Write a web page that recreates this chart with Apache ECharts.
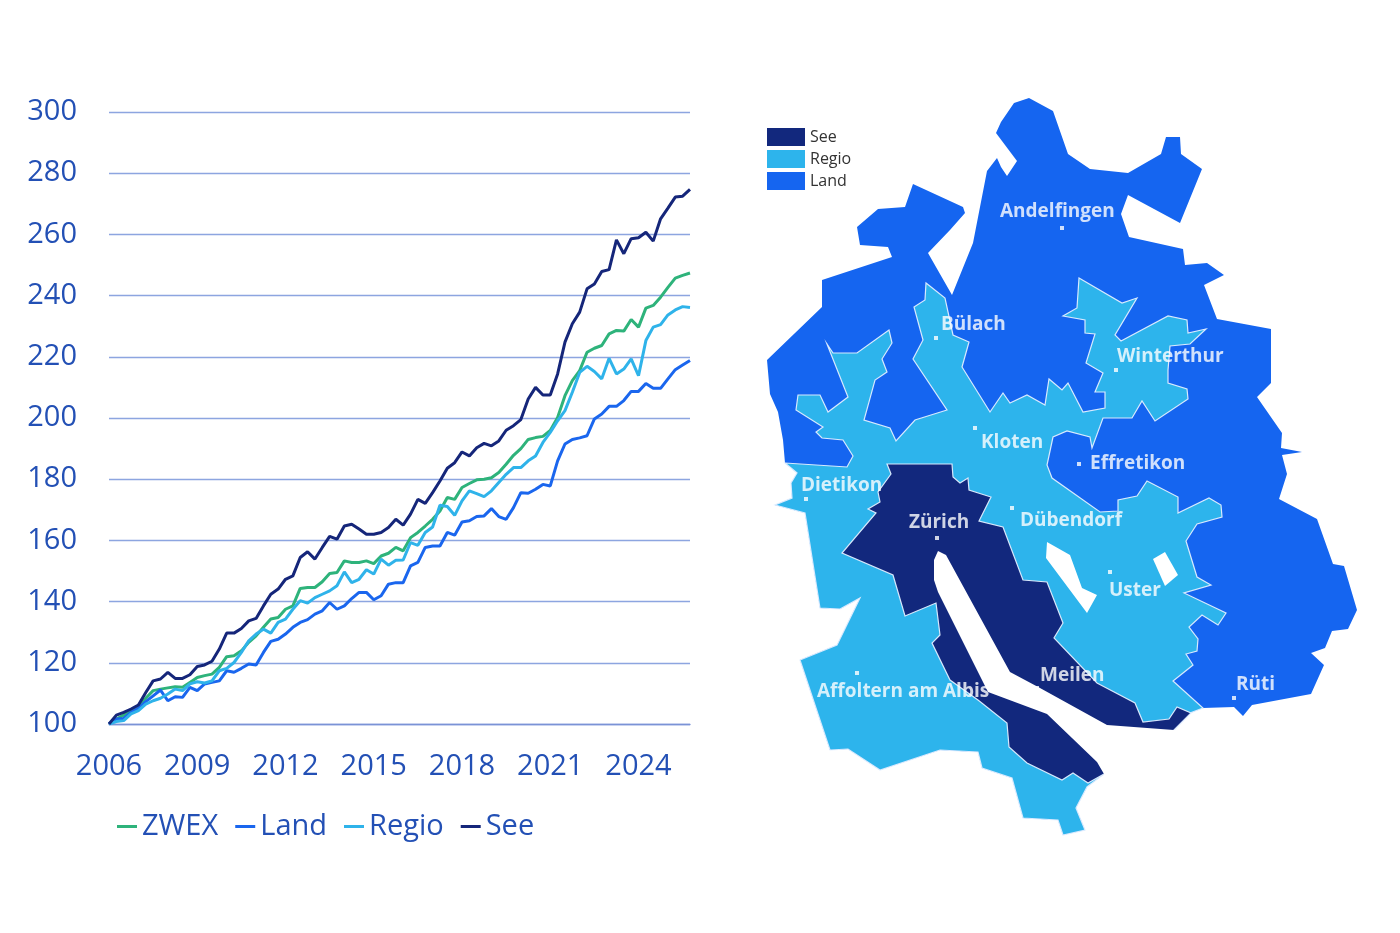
<!DOCTYPE html>
<html lang="de">
<head>
  <meta charset="UTF-8">
  <title>ZWEX</title>
  <script src="https://cdn.jsdelivr.net/npm/echarts@6/dist/echarts.min.js"></script>
  <style>
    body { margin: 0; background: #fff; }
    #chart { width: 1400px; height: 933px; }
  </style>
</head>
<body>
<div id="chart"></div>
<script>
  // Quartale 2006 Q1 bis 2025 Q4
  var quarters = [];
  for (var y = 2006; y <= 2025; y++) {
    for (var q = 1; q <= 4; q++) quarters.push(y + ' Q' + q);
  }

  var zwex = [100, 101.6, 102.9, 104.4, 106.0, 108.4, 110.9, 111.4, 111.8, 112.2, 112.0, 113.6,
    115.2, 115.8, 116.3, 118.5, 122.0, 122.3, 123.9, 126.7, 128.8, 131.6, 134.3, 134.8,
    137.5, 138.6, 144.3, 144.6, 144.6, 146.5, 149.2, 149.5, 153.3, 152.8, 152.8, 153.3,
    152.4, 154.9, 155.8, 157.7, 156.6, 160.9, 162.6, 164.7, 166.9, 169.6, 174.0, 173.4,
    177.3, 178.6, 179.8, 180.0, 180.5, 182.2, 184.9, 187.8, 190.0, 193.0, 193.6, 194.0,
    195.9, 200.2, 207.3, 212.2, 215.5, 221.5, 222.8, 223.7, 227.5, 228.6, 228.4, 232.2,
    229.7, 235.9, 236.8, 239.5, 242.7, 245.7, 246.6, 247.4];

  var land = [100, 101.6, 101.8, 103.8, 105.1, 107.3, 109.2, 111.1, 107.6, 108.9, 108.7, 112.0,
    110.9, 113.1, 113.6, 114.1, 117.4, 116.9, 118.2, 119.6, 119.3, 123.4, 127.0, 127.7,
    129.4, 131.6, 133.2, 134.1, 135.9, 137.0, 139.7, 137.5, 138.6, 141.0, 143.0, 143.0,
    140.6, 141.9, 145.7, 146.2, 146.2, 151.7, 152.8, 157.7, 158.2, 158.2, 162.6, 161.7,
    166.0, 166.4, 167.8, 168.0, 170.4, 167.8, 166.9, 170.7, 175.6, 175.4, 176.7, 178.3,
    177.8, 186.0, 191.5, 193.0, 193.5, 194.2, 199.7, 201.3, 203.8, 203.8, 205.7, 208.7,
    208.7, 211.3, 209.7, 209.7, 212.8, 215.8, 217.3, 218.8];

  var regio = [100, 100.8, 101.1, 103.3, 104.4, 106.5, 107.6, 108.4, 109.8, 111.4, 110.9, 113.1,
    113.8, 113.4, 114.1, 117.4, 118.2, 120.1, 123.4, 127.2, 129.4, 131.0, 129.7, 133.2,
    134.3, 137.5, 140.3, 139.5, 141.3, 142.4, 143.5, 145.2, 149.7, 146.2, 147.3, 150.4,
    149.0, 153.9, 151.9, 153.5, 153.6, 159.3, 158.4, 162.6, 164.4, 171.5, 171.1, 168.2,
    172.9, 176.2, 175.3, 174.3, 176.2, 178.9, 181.6, 183.8, 183.8, 186.0, 187.6, 192.0,
    195.3, 199.1, 202.4, 208.4, 214.9, 216.9, 215.2, 212.8, 219.5, 214.4, 216.0, 219.3,
    213.8, 225.3, 229.7, 230.5, 233.7, 235.3, 236.4, 236.1];

  var see = [100, 102.9, 103.8, 104.9, 106.2, 110.3, 114.1, 114.7, 116.9, 114.9, 114.9, 116.1,
    118.8, 119.3, 120.5, 124.5, 129.7, 129.7, 131.2, 133.7, 134.5, 138.6, 142.4, 144.1,
    147.3, 148.4, 154.4, 156.3, 153.9, 157.7, 161.3, 160.4, 164.7, 165.3, 163.7, 162.0,
    162.0, 162.6, 164.2, 166.9, 165.0, 168.6, 173.4, 172.1, 175.6, 179.4, 183.6, 185.4,
    188.9, 187.6, 190.3, 191.7, 190.9, 192.5, 196.0, 197.5, 199.5, 206.2, 210.0, 207.5,
    207.5, 214.4, 224.8, 230.8, 234.6, 242.2, 243.8, 247.9, 248.5, 258.2, 253.7, 258.6,
    258.9, 260.7, 257.8, 265.1, 268.6, 272.2, 272.5, 274.7];

  // Kartenumrisse (vereinfacht, x nach rechts, y nach unten)
  var cantonOutline = [[1014,103],[1029,98],[1053,111],[1068,154],[1090,169],[1128,173],[1161,154],[1166,137],
    [1180,137],[1181,154],[1202,169],[1180,223],[1128,195],[1121,214],[1129,237],[1183,249],[1185,265],
    [1207,263],[1224,275],[1204,285],[1217,319],[1271,329],[1271,383],[1257,397],[1282,433],[1281,448],
    [1302,452],[1282,455],[1287,474],[1279,499],[1317,519],[1333,564],[1344,566],[1357,610],[1348,629],
    [1332,631],[1325,648],[1311,653],[1324,665],[1311,694],[1252,705],[1243,716],[1234,707],[1203,708],
    [1190,713],[1174,730],[1104,774],[1087,787],[1076,808],[1085,830],[1063,835],[1058,820],[1023,818],
    [1012,778],[982,768],[978,752],[940,750],[880,770],[848,749],[830,750],[800,660],[837,645],[860,598],
    [840,609],[820,608],[805,513],[775,505],[792,498],[791,483],[797,473],[785,463],[783,440],[778,412],
    [770,394],[767,360],[822,307],[822,280],[892,257],[888,247],[860,245],[857,227],[878,209],[905,207],
    [913,184],[963,207],[965,213],[950,230],[928,253],[952,295],[973,243],[987,171],[997,158],[1001,167],
    [1007,176],[1017,161],[996,133],[1001,122],[1014,103]];

  var regioArea = [[785,463],[847,467],[853,456],[843,440],[822,438],[816,432],[823,427],[796,410],[798,395],
    [820,395],[828,412],[848,397],[827,344],[833,353],[857,353],[889,330],[892,343],[882,359],[887,372],
    [875,380],[864,420],[890,428],[896,441],[915,420],[947,410],[913,359],[923,340],[914,307],[925,300],
    [926,283],[945,298],[953,335],[969,342],[962,367],[990,412],[1003,393],[1010,403],[1027,395],[1045,405],
    [1049,379],[1062,390],[1068,383],[1083,412],[1105,408],[1105,392],[1095,392],[1103,373],[1086,363],
    [1095,334],[1085,333],[1085,320],[1063,316],[1077,308],[1079,278],[1122,303],[1137,298],[1115,335],
    [1121,341],[1168,316],[1187,320],[1188,333],[1206,329],[1190,344],[1170,346],[1168,370],[1168,383],
    [1187,389],[1188,399],[1155,421],[1142,401],[1132,418],[1103,418],[1092,448],[1090,437],[1067,431],
    [1053,437],[1047,465],[1052,478],[1100,512],[1118,511],[1118,500],[1137,496],[1147,481],[1178,497],
    [1178,513],[1209,498],[1221,505],[1222,517],[1197,524],[1186,541],[1197,577],[1211,585],[1184,593],
    [1226,613],[1218,625],[1202,615],[1189,627],[1198,639],[1197,651],[1186,654],[1193,665],[1173,681],
    [1203,708],[1190,713],[1174,730],[1104,774],[1087,787],[1076,808],[1085,830],[1063,835],[1058,820],
    [1023,818],[1012,778],[982,768],[978,752],[940,750],[880,770],[848,749],[830,750],[800,660],[837,645],
    [860,598],[840,609],[820,608],[805,513],[775,505],[792,498],[791,483],[797,473],[785,463]];

  var seeArea = [[887,464],[952,464],[953,477],[960,483],[968,478],[969,490],[991,497],[979,521],[1003,527],
    [1023,580],[1047,582],[1063,623],[1054,638],[1097,683],[1135,703],[1143,722],[1169,719],[1177,707],
    [1191,713],[1174,730],[1104,774],[1088,783],[1073,773],[1062,780],[1027,763],[1009,747],[1007,723],
    [978,700],[950,680],[932,643],[940,635],[936,603],[905,616],[893,575],[842,553],[876,513],[868,509],
    [880,502],[878,492],[891,474],[887,464]];

  var zuerichsee = [[938,551],[946,555],[1010,672],[1040,688],[1107,725],[1174,730],[1205,735],[1115,795],
    [1104,774],[1097,762],[1047,714],[988,692],[938,592],[934,580],[934,560],[938,551]];
  var greifensee = [[1047,542],[1070,555],[1082,588],[1097,595],[1087,613],[1046,558],[1047,542]];
  var pfaeffikersee = [[1153,559],[1165,552],[1178,575],[1165,586],[1153,559]];

  var towns = [
    ['Andelfingen', 1062, 228], ['Bülach', 936, 338], ['Winterthur', 1116, 370], ['Kloten', 975, 428],
    ['Effretikon', 1079, 464], ['Dietikon', 806, 499], ['Zürich', 937, 538], ['Dübendorf', 1012, 508],
    ['Uster', 1110, 572], ['Meilen', 1037, 688], ['Affoltern am Albis', 857, 673], ['Rüti', 1234, 698]
  ];
  // Versatz der Beschriftung gegenüber dem Punkt
  var townLabelOffset = {
    'Andelfingen': [-64, -16], 'Bülach': [3, -13], 'Winterthur': [-1, -13], 'Kloten': [4, 15],
    'Effretikon': [9, 0], 'Dietikon': [-7, -13], 'Zürich': [-30, -15], 'Dübendorf': [6, 13],
    'Uster': [-3, 19], 'Meilen': [1, -12], 'Affoltern am Albis': [-42, 19], 'Rüti': [0, -13]
  };

  var colZwex = '#2eb37b', colLand = '#1a66ee', colRegio = '#2fb3ea', colSee = '#15267a';
  var fillLand = '#1565f0', fillRegio = '#2db4ec', fillSee = '#12287d';
  var axisBlue = '#2350b5';

  function feature(name, ring) {
    return {
      type: 'Feature', properties: { name: name },
      geometry: { type: 'Polygon', coordinates: [ring.map(function (p) { return [p[0], -p[1]]; })] }
    };
  }

  echarts.registerMap('zh', {
    type: 'FeatureCollection',
    features: [
      feature('Land', cantonOutline),
      feature('Regio', regioArea),
      feature('See', seeArea),
      feature('Zürichsee', zuerichsee),
      feature('Greifensee', greifensee),
      feature('Pfäffikersee', pfaeffikersee)
    ]
  });

  var chart = echarts.init(document.getElementById('chart'));
  var font = '"Open Sans", sans-serif';
  var edge = { borderColor: 'rgba(225,238,255,0.95)', borderWidth: 1.2 };
  var lake = { areaColor: '#ffffff', borderWidth: 0 };

  function lineSeries(name, data, color) {
    return {
      name: name, type: 'line', data: data, showSymbol: false, symbol: 'none',
      lineStyle: { color: color, width: 3 }, itemStyle: { color: color }, silent: true
    };
  }

  var option = {
    animation: false,
    textStyle: { fontFamily: font },
    grid: { left: 109, right: 710, top: 112, bottom: 209 },
    legend: [{
      data: ['ZWEX', 'Land', 'Regio', 'See'],
      left: 117, top: 812, padding: 0,
      icon: 'rect', itemWidth: 20, itemHeight: 3, itemGap: 17,
      selectedMode: false,
      textStyle: { fontSize: 29, color: axisBlue, fontFamily: font }
    }, {
      data: [
        { name: 'See', itemStyle: { color: fillSee } },
        { name: 'Regio', itemStyle: { color: fillRegio } },
        { name: 'Land', itemStyle: { color: fillLand } }
      ],
      left: 767, top: 128, orient: 'vertical', padding: 0,
      icon: 'rect', itemWidth: 38, itemHeight: 18, itemGap: 4,
      selectedMode: false,
      textStyle: { fontSize: 16, color: '#333', fontFamily: font }
    }],
    xAxis: {
      type: 'category', data: quarters, boundaryGap: false,
      axisTick: { show: false },
      axisLine: { lineStyle: { color: '#7b93d6', width: 1.3 } },
      axisLabel: {
        interval: 11, margin: 28, fontSize: 29, color: axisBlue, fontFamily: font,
        formatter: function (v) { return v.slice(0, 4); }
      }
    },
    yAxis: {
      type: 'value', min: 100, max: 300, interval: 20,
      axisLine: { show: false }, axisTick: { show: false },
      axisLabel: { margin: 32, fontSize: 29, color: axisBlue, fontFamily: font },
      splitLine: { lineStyle: { color: '#8da5e0', width: 1.3 } }
    },
    geo: {
      map: 'zh', roam: false, silent: true, aspectScale: 1,
      left: 767, top: 98, width: 590, height: 737,
      label: { show: false },
      itemStyle: { areaColor: fillLand, borderWidth: 0 },
      regions: [
        { name: 'Land', itemStyle: { areaColor: fillLand, borderWidth: 0 } },
        { name: 'Regio', itemStyle: Object.assign({ areaColor: fillRegio }, edge) },
        { name: 'See', itemStyle: Object.assign({ areaColor: fillSee }, edge) },
        { name: 'Zürichsee', itemStyle: lake },
        { name: 'Greifensee', itemStyle: lake },
        { name: 'Pfäffikersee', itemStyle: lake }
      ]
    },
    series: [
      lineSeries('ZWEX', zwex, colZwex),
      lineSeries('Land', land, colLand),
      lineSeries('Regio', regio, colRegio),
      lineSeries('See', see, colSee),
      {
        type: 'scatter', coordinateSystem: 'geo', silent: true, z: 5,
        symbol: 'rect', symbolSize: 4,
        itemStyle: { color: '#ffffff' },
        label: {
          show: true, position: 'right', distance: 0, formatter: '{b}',
          color: '#ffffff', fontSize: 19, fontWeight: 'bold', fontFamily: font
        },
        data: towns.map(function (t) {
          return { name: t[0], value: [t[1], -t[2]], label: { offset: townLabelOffset[t[0]] } };
        })
      }
    ]
  };

  chart.setOption(option);
</script>
</body>
</html>
